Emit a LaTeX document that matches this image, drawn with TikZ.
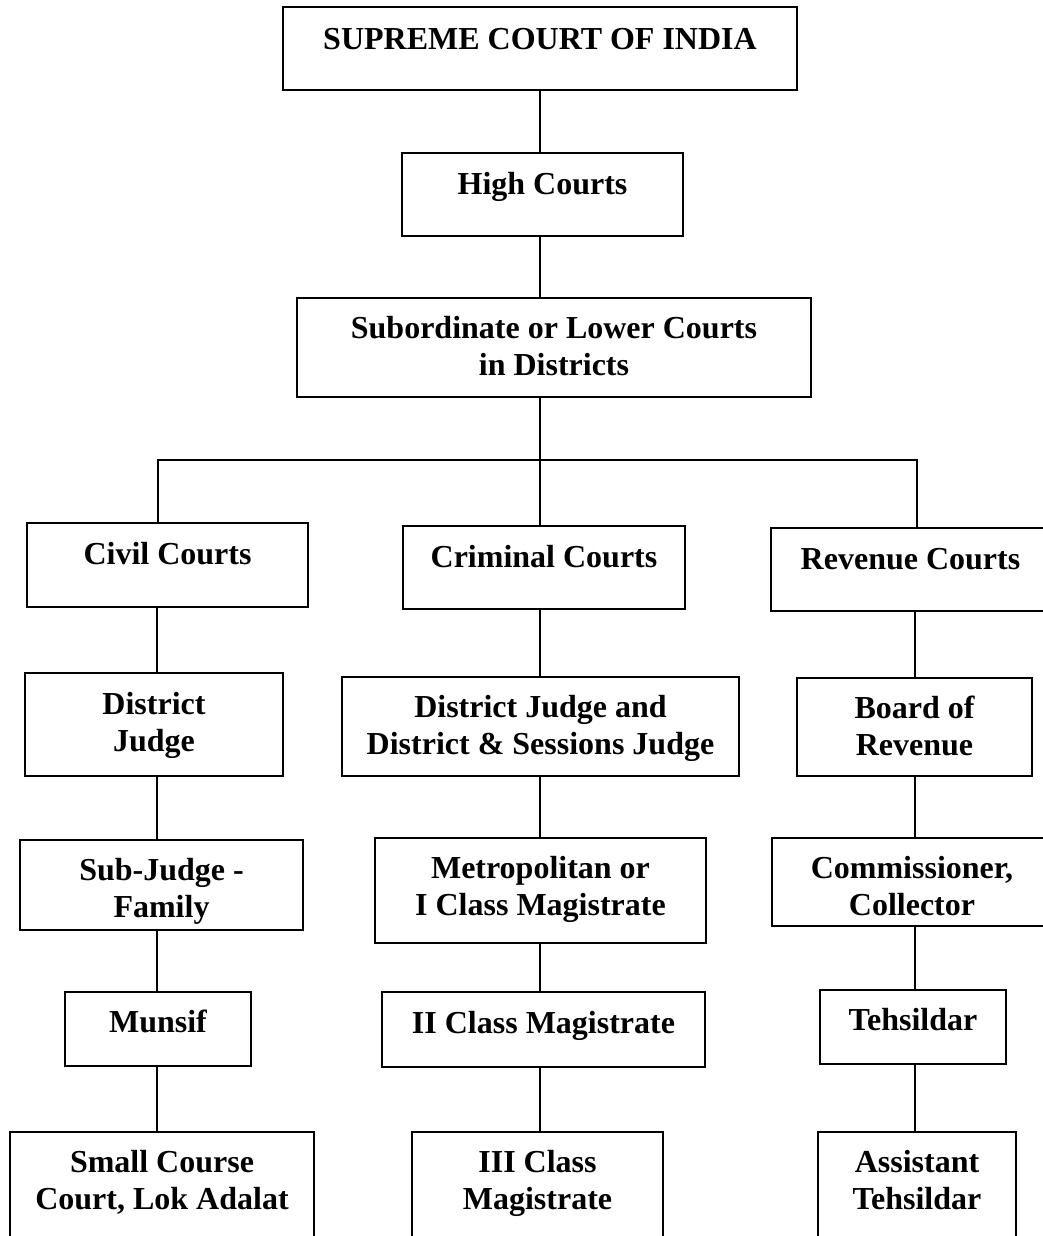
\documentclass[tikz,border=0pt]{standalone}
\usepackage{fontspec}
\setmainfont{Liberation Serif}
\newcommand\twolines[2]{\begin{tabular}[t]{@{}c@{}}#1\\#2\end{tabular}}
\begin{document}
\begin{tikzpicture}[x=1pt,y=-1pt,
  box/.style={draw, line width=1.8pt, inner sep=0pt, anchor=base,
    font=\fontsize{32}{37}\selectfont\bfseries},
  link/.style={line width=1.8pt}]
\useasboundingbox (0,0) rectangle (1043,1236);
% top chain
\node[box, minimum width=514, text height=43, text depth=40] (sc)  at (540,50)  {SUPREME COURT OF INDIA};
\node[box, minimum width=281, text height=41, text depth=42] (hc)  at (542.5,194) {High Courts};
\node[box, minimum width=514, text height=40, text depth=59] (sub) at (554,338) {\twolines{Subordinate or Lower Courts}{in Districts}};
% second row
\node[box, minimum width=281, text height=41, text depth=43] (civ)  at (167.5,564) {Civil Courts};
\node[box, minimum width=282, text height=41, text depth=42] (crim) at (544,567)   {Criminal Courts};
\node[box, minimum width=279, text height=41, text depth=42] (rev)  at (910.5,569) {Revenue Courts};
% third row
\node[box, minimum width=258, text height=41, text depth=62] (dj)  at (154,714)   {\twolines{District}{Judge}};
\node[box, minimum width=397, text height=40, text depth=59] (djs) at (540.5,717) {\twolines{District Judge and}{District \& Sessions Judge}};
\node[box, minimum width=235, text height=40, text depth=58] (bor) at (914.5,718) {\twolines{Board of}{Revenue}};
% fourth row
\node[box, minimum width=283, text height=40, text depth=50] (sj)  at (161.5,880) {\twolines{Sub-Judge -}{Family}};
\node[box, minimum width=331, text height=40, text depth=65] (met) at (540.5,878) {\twolines{Metropolitan or}{I Class Magistrate}};
\node[box, minimum width=280, text height=40, text depth=48] (com) at (912,878)   {\twolines{Commissioner,}{Collector}};
% fifth row
\node[box, minimum width=186, text height=40, text depth=34] (mun) at (158,1032)   {Munsif};
\node[box, minimum width=323, text height=41, text depth=34] (iic) at (543.5,1033) {II Class Magistrate};
\node[box, minimum width=186, text height=40, text depth=34] (teh) at (913,1030)   {Tehsildar};
% sixth row
\node[box, minimum width=304, text height=40, text depth=80] (sml) at (162,1172)   {\twolines{Small Course}{Court, Lok Adalat}};
\node[box, minimum width=251, text height=40, text depth=80] (iii) at (537.5,1172) {\twolines{III Class}{Magistrate}};
\node[box, minimum width=198, text height=40, text depth=80] (ast) at (917,1172)   {\twolines{Assistant}{Tehsildar}};
% column coordinates
\coordinate (trunk) at (540,0);
\coordinate (colA) at (157,0);
\coordinate (colB) at (540,0);
\coordinate (colC) at (915,0);
\coordinate (busL) at (158,460);
\coordinate (busR) at (917,460);
% connectors
\draw[link] (trunk |- sc.south) -- (trunk |- hc.north);
\draw[link] (trunk |- hc.south) -- (trunk |- sub.north);
\draw[link] (trunk |- sub.south) -- (trunk |- crim.north);
\draw[link] (busL |- civ.north) -- (busL) -- (busR) -- (busR |- rev.north);
\draw[link] (colA |- civ.south) -- (colA |- dj.north);
\draw[link] (colA |- dj.south) -- (colA |- sj.north);
\draw[link] (colA |- sj.south) -- (colA |- mun.north);
\draw[link] (colA |- mun.south) -- (colA |- sml.north);
\draw[link] (colB |- crim.south) -- (colB |- djs.north);
\draw[link] (colB |- djs.south) -- (colB |- met.north);
\draw[link] (colB |- met.south) -- (colB |- iic.north);
\draw[link] (colB |- iic.south) -- (colB |- iii.north);
\draw[link] (colC |- rev.south) -- (colC |- bor.north);
\draw[link] (colC |- bor.south) -- (colC |- com.north);
\draw[link] (colC |- com.south) -- (colC |- teh.north);
\draw[link] (colC |- teh.south) -- (colC |- ast.north);
\end{tikzpicture}
\end{document}
